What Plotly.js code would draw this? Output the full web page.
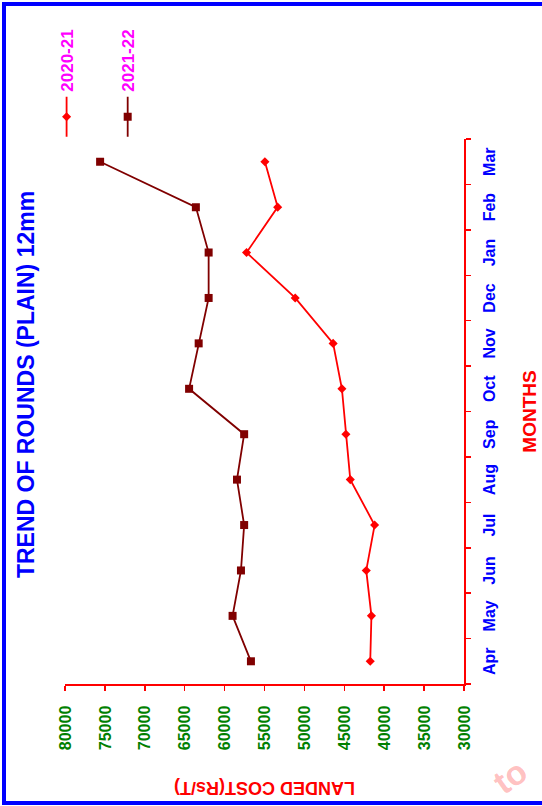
<!DOCTYPE html>
<html>
<head>
<meta charset="utf-8">
<script src="https://cdn.plot.ly/plotly-3.0.1.min.js"></script>
<style>
  html, body { margin: 0; padding: 0; width: 542px; height: 806px; overflow: hidden; background: #fff; }
  #chart { position: absolute; left: 0; top: 0; width: 806px; height: 542px;
           transform-origin: 0 0; transform: translate(0, 806px) rotate(-90deg); }
  #frame { position: absolute; left: 2px; top: 2px; width: 600px; height: 803px;
           box-sizing: border-box; border: 4px solid #0000FF; pointer-events: none; }
  #wm { position: absolute; left: 486px; top: 770px; font: bold 34px "Liberation Sans", Arial, sans-serif;
        color: rgba(255,40,40,0.3); transform: rotate(-35deg); transform-origin: 0 0; pointer-events: none; }
</style>
</head>
<body>
<div id="chart"></div>
<div id="frame"></div>
<div id="wm">to</div>
<script>
const months = ["Apr","May","Jun","Jul","Aug","Sep","Oct","Nov","Dec","Jan","Feb","Mar"];
const seriesNames = ["2020-21", "2021-22"];
const cost2020_21 = [41750, 41600, 42250, 41200, 44250, 44800, 45300, 46400, 51150, 57250, 53350, 54950];
const cost2021_22 = [56700, 59000, 57950, 57550, 58450, 57550, 64450, 63250, 62000, 62000, 63600, 75600];
const costTicks = [30000, 35000, 40000, 45000, 50000, 55000, 60000, 65000, 70000, 75000, 80000];

const FONT = "Liberation Sans, Arial, sans-serif";
const b = s => "<b>" + s + "</b>";

const traces = [
  {
    x: months, y: cost2020_21, name: b(seriesNames[0]), type: "scatter", mode: "lines+markers",
    legendgroup: "a",
    line: { color: "#FF0000", width: 1.8 },
    marker: { symbol: "diamond", size: 7, color: "#FF0000" }
  },
  {
    x: months, y: cost2021_22, name: b(seriesNames[1]), type: "scatter", mode: "lines+markers",
    legendgroup: "b",
    line: { color: "#800000", width: 1.8 },
    marker: { symbol: "square", size: 8, color: "#800000" }
  }
];

const layout = {
  width: 806, height: 542,
  paper_bgcolor: "#FFFFFF", plot_bgcolor: "#FFFFFF",
  margin: { l: 122, r: 139, t: 65, b: 78 },
  title: {
    text: b("TREND OF ROUNDS (PLAIN) 12mm"),
    font: { family: FONT, size: 23, color: "#0000FF" },
    xref: "container", yref: "container", x: 0.523, y: 0.952,
    xanchor: "center", yanchor: "middle"
  },
  xaxis: {
    type: "category", categoryorder: "array", categoryarray: months,
    tickvals: months, ticktext: months.map(b),
    range: [-0.5, 11.5], tickson: "boundaries",
    ticks: "outside", ticklen: 5, tickwidth: 1.5, tickcolor: "#FF0000",
    showline: true, linecolor: "#FF0000", linewidth: 1.5,
    showgrid: false, zeroline: false,
    tickfont: { family: FONT, size: 16, color: "#0000FF" },
    ticklabelstandoff: 10,
    title: { text: b("MONTHS"), standoff: 26,
             font: { family: FONT, size: 19, color: "#FF0000" } }
  },
  yaxis: {
    range: [30000, 80000], tickvals: costTicks, ticktext: costTicks.map(v => b(String(v))),
    ticks: "outside", ticklen: 5, tickwidth: 1.5, tickcolor: "#FF0000",
    showline: true, linecolor: "#FF0000", linewidth: 1.5,
    showgrid: false, zeroline: false,
    tickfont: { family: FONT, size: 16, color: "#008000" },
    ticklabelstandoff: 12,
    title: { text: b("LANDED COST(Rs/T)"), standoff: 26,
             font: { family: FONT, size: 18, color: "#FF0000" } }
  },
  showlegend: true,
  legend: {
    x: 0.995, xanchor: "left", y: 1.04, yanchor: "top",
    bgcolor: "rgba(0,0,0,0)", borderwidth: 0,
    itemwidth: 40, tracegroupgap: 36, traceorder: "grouped",
    font: { family: FONT, size: 17, color: "#FF00FF" }
  }
};

Plotly.newPlot("chart", traces, layout, { staticPlot: true, displayModeBar: false });
</script>
</body>
</html>
